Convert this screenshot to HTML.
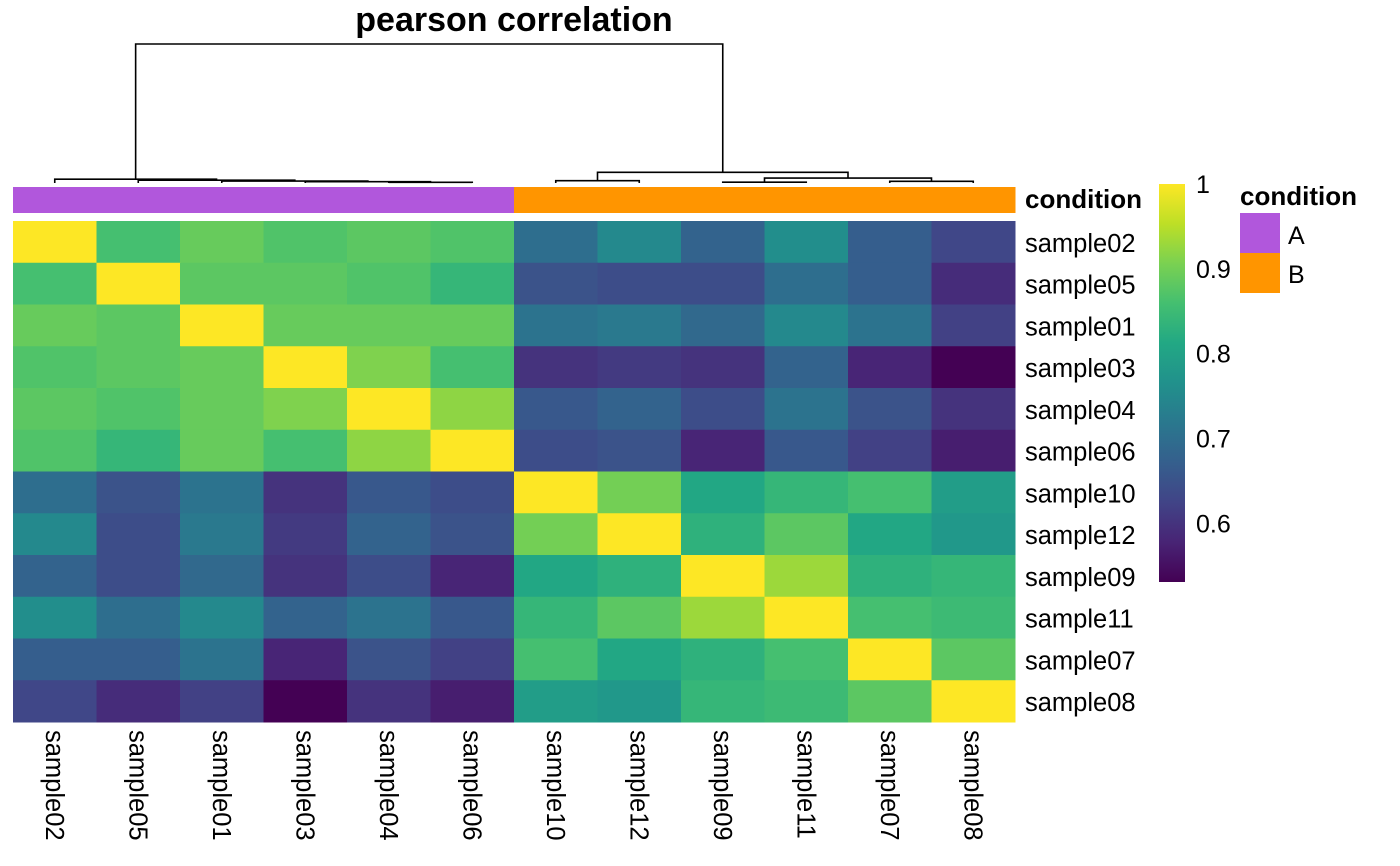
<!DOCTYPE html>
<html><head><meta charset="utf-8"><style>
body{margin:0;background:#fff;}
svg{display:block;font-family:"Liberation Sans",sans-serif;}
</style></head><body>
<svg id="c" width="1400" height="866"></svg>
<script>
const labels=["sample02","sample05","sample01","sample03","sample04","sample06","sample10","sample12","sample09","sample11","sample07","sample08"];
const groups=["A","A","A","A","A","A","B","B","B","B","B","B"];
const corr=[
[1,0.86,0.89,0.87,0.88,0.87,0.70,0.75,0.68,0.76,0.67,0.63],
[0.86,1,0.88,0.88,0.87,0.84,0.65,0.64,0.64,0.70,0.67,0.59],
[0.89,0.88,1,0.89,0.89,0.89,0.71,0.72,0.69,0.75,0.71,0.62],
[0.87,0.88,0.89,1,0.91,0.86,0.60,0.61,0.60,0.68,0.58,0.53],
[0.88,0.87,0.89,0.91,1,0.92,0.66,0.68,0.64,0.71,0.65,0.60],
[0.87,0.84,0.89,0.86,0.92,1,0.64,0.65,0.58,0.66,0.62,0.57],
[0.70,0.65,0.71,0.60,0.66,0.64,1,0.90,0.81,0.84,0.86,0.79],
[0.75,0.64,0.72,0.61,0.68,0.65,0.90,1,0.83,0.88,0.81,0.78],
[0.68,0.64,0.69,0.60,0.64,0.58,0.81,0.83,1,0.93,0.83,0.84],
[0.76,0.70,0.75,0.68,0.71,0.66,0.84,0.88,0.93,1,0.86,0.85],
[0.67,0.67,0.71,0.58,0.65,0.62,0.86,0.81,0.83,0.86,1,0.88],
[0.63,0.59,0.62,0.53,0.60,0.57,0.79,0.78,0.84,0.85,0.88,1]];
const legendTicks=[0.6,0.7,0.8,0.9,1];
const merges=[[-4,-5,0.3],[-3,1,0.6],[-2,2,0.9],[-1,3,1.3],[0,4,1.8],[-6,-7,1.1],[-8,-9,0.4],[-10,-11,0.8],[7,8,2.3],[6,9,5.0],[5,10,65]];
const vmin=0.531,vmax=1;
const vir=["#440154","#482475","#414487","#355f8d","#2a788e","#21918c","#22a884","#44bf70","#7ad151","#bddf26","#fde725"];
function col(v){let t=Math.max(0,Math.min(1,(v-vmin)/(vmax-vmin)))*10;let i=Math.min(9,Math.floor(t)),f=t-i;
const a=vir[i],b=vir[i+1];const h=(s,k)=>parseInt(s.substr(1+2*k,2),16);
return "rgb("+[0,1,2].map(k=>Math.round(h(a,k)+(h(b,k)-h(a,k))*f)).join(",")+")";}
const X0=13,X1=1015,Y0=221,Y1=722,n=labels.length,cw=(X1-X0)/n,ch=(Y1-Y0)/n;
const svg=document.getElementById('c');const NS="http://www.w3.org/2000/svg";
function el(t,a,p){const e=document.createElementNS(NS,t);for(const k in a)e.setAttribute(k,a[k]);(p||svg).appendChild(e);return e;}
for(let r=0;r<n;r++)for(let c=0;c<n;c++){const e=el('rect',{x:X0+c*cw,y:Y0+r*ch,width:cw+0.5,height:ch+0.5,fill:col(corr[r][c])});

}
for(let c=0;c<n;c++){const e=el('rect',{x:X0+c*cw,y:187,width:cw+0.5,height:26,fill:groups[c]=="A"?"#b157dc":"#ff9500"});

}
let tx=el('text',{x:1025,y:208,'font-size':26,'font-weight':'bold'});tx.textContent="condition";


for(let r=0;r<n;r++){const e=el('text',{x:1025,y:Y0+(r+0.5)*ch+10,'font-size':25.5});e.textContent=labels[r];

}
for(let c=0;c<n;c++){const x=X0+(c+0.5)*cw-9;const e=el('text',{x:0,y:0,'font-size':25.5,transform:`translate(${x},730) rotate(90)`});e.textContent=labels[c];

}
tx=el('text',{x:514,y:31,'font-size':34,'font-weight':'bold','text-anchor':'middle'});tx.textContent="pearson correlation";


const dBase=183,dTop=44,hmax=65;
function hy(h){return dBase-(h/hmax)*(dBase-dTop);}
const nodes=[];
function pos(i){if(i<=0)return {x:X0+(-i+0.5)*cw,y:dBase};return nodes[i-1];}
const dg=el('g',{stroke:'#000','stroke-width':1.6,fill:'none'});


merges.forEach(m=>{const a=pos(m[0]),b=pos(m[1]),y=hy(m[2]);
el('path',{d:`M${a.x},${a.y}V${y}H${b.x}V${b.y}`},dg);nodes.push({x:(a.x+b.x)/2,y:y});});
const defs=el('defs',{});const lg=el('linearGradient',{id:'g',x1:0,y1:1,x2:0,y2:0},defs);
vir.forEach((c,i)=>el('stop',{offset:i/10,'stop-color':c},lg));
const cbTop=184,cbBot=582;
const cb=el('rect',{x:1159,y:cbTop,width:26,height:cbBot-cbTop,fill:'url(#g)'});


legendTicks.forEach(v=>{const y=cbBot-(v-vmin)/(vmax-vmin)*(cbBot-cbTop);
const e=el('text',{x:1196,y:y+9,'font-size':25});e.textContent=String(v);

});
tx=el('text',{x:1240,y:205,'font-size':26,'font-weight':'bold'});tx.textContent="condition";


[["A","#b157dc"],["B","#ff9500"]].forEach((g,i)=>{const r=el('rect',{x:1240,y:213+i*40,width:40,height:40,fill:g[1]});


const e=el('text',{x:1288,y:244+i*39,'font-size':25});e.textContent=g[0];

});
</script>
</body></html>
